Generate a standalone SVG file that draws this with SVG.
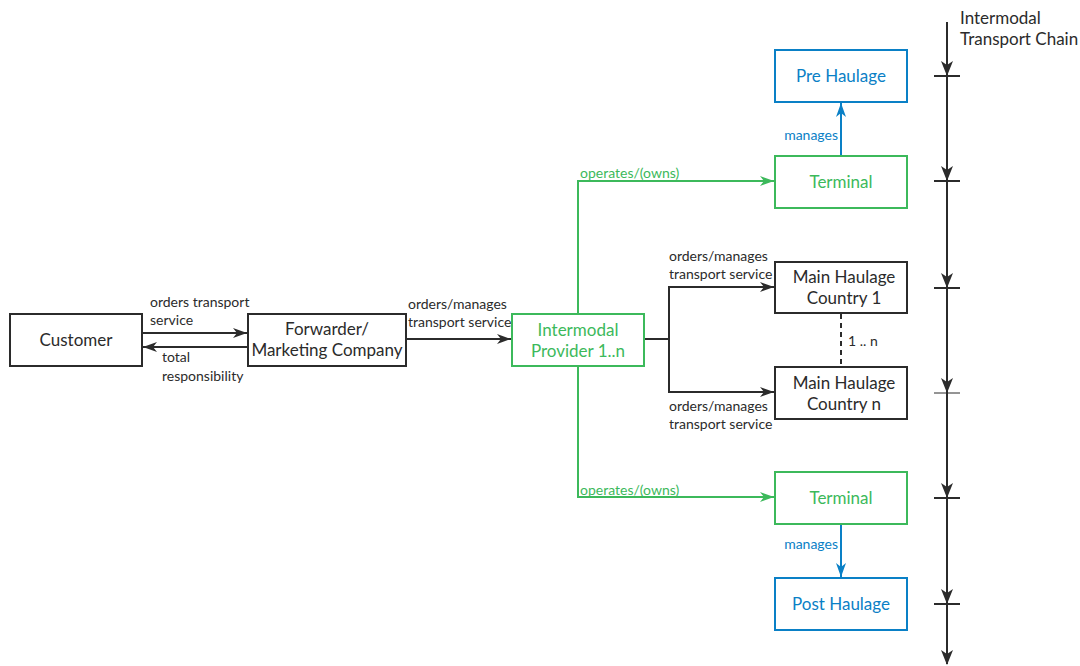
<svg xmlns="http://www.w3.org/2000/svg" width="1080" height="666" viewBox="0 0 1080 666">
<style>
.box{fill:#fff;stroke-width:2}
.k{stroke:#2b2b2b}
.g{stroke:#3cb95b}
.b{stroke:#0a80c6}
.t{font-family:Lato,"Liberation Sans",sans-serif;font-size:17px;text-anchor:middle}
.s{font-family:Lato,"Liberation Sans",sans-serif;font-size:14px}
.tk{fill:#2b2b2b}.tg{fill:#3cb95b}.tb{fill:#0a80c6}
.ln{fill:none;stroke-width:2}
</style>
<defs>
<marker id="ak" viewBox="0 0 14 10" refX="14" refY="5" markerWidth="14" markerHeight="10" markerUnits="userSpaceOnUse" orient="auto"><path d="M0,0 L14,5 L0,10 L4,5 z" fill="#2b2b2b"/></marker>
<marker id="ag" viewBox="0 0 14 10" refX="14" refY="5" markerWidth="14" markerHeight="10" markerUnits="userSpaceOnUse" orient="auto"><path d="M0,0 L14,5 L0,10 L4,5 z" fill="#3cb95b"/></marker>
<marker id="ab" viewBox="0 0 14 10" refX="14" refY="5" markerWidth="14" markerHeight="10" markerUnits="userSpaceOnUse" orient="auto"><path d="M0,0 L14,5 L0,10 L4,5 z" fill="#0a80c6"/></marker>
</defs>

<g id="connectors">
<line class="ln k" x1="142" y1="333" x2="247" y2="333" marker-end="url(#ak)"/>
<line class="ln k" x1="248" y1="347" x2="143" y2="347" marker-end="url(#ak)"/>
<line class="ln k" x1="406" y1="339" x2="511" y2="339" marker-end="url(#ak)"/>
<polyline class="ln g" points="578,314 578,181 774,181" marker-end="url(#ag)"/>
<polyline class="ln g" points="578,366 578,497 774,497" marker-end="url(#ag)"/>
<polyline class="ln k" points="644,339 669,339 669,287 774,287" marker-end="url(#ak)"/>
<polyline class="ln k" points="669,339 669,392 774,392" marker-end="url(#ak)"/>
<line class="ln b" x1="841" y1="156" x2="841" y2="103" marker-end="url(#ab)"/>
<line class="ln b" x1="841" y1="524" x2="841" y2="577" marker-end="url(#ab)"/>
<line x1="841" y1="314" x2="841" y2="366" stroke="#2b2b2b" stroke-width="2" stroke-dasharray="5,4"/>
<text class="s tk" x="150" y="307">orders transport</text>
<text class="s tk" x="150" y="325">service</text>
<text class="s tk" x="162" y="362">total</text>
<text class="s tk" x="162" y="381">responsibility</text>
<text class="s tk" x="408" y="309">orders/manages</text>
<text class="s tk" x="408" y="327">transport service</text>
<text class="s tg" x="580" y="178">operates/(owns)</text>
<text class="s tg" x="580" y="495">operates/(owns)</text>
<text class="s tk" x="669" y="261">orders/manages</text>
<text class="s tk" x="669" y="279">transport service</text>
<text class="s tk" x="669" y="411">orders/manages</text>
<text class="s tk" x="669" y="429">transport service</text>
<text class="s tb" x="838" y="140" text-anchor="end">manages</text>
<text class="s tb" x="838" y="549" text-anchor="end">manages</text>
<text class="s tk" x="848" y="346">1 .. n</text>
</g>

<g id="chain">
<line class="ln k" x1="947" y1="22" x2="947" y2="664"/>
<g stroke="#2b2b2b" stroke-width="2">
<line x1="934" y1="76" x2="960" y2="76"/>
<line x1="934" y1="181" x2="960" y2="181"/>
<line x1="934" y1="288" x2="960" y2="288"/>
<line x1="934" y1="393" x2="960" y2="393" stroke-width="1"/>
<line x1="934" y1="498" x2="960" y2="498"/>
<line x1="934" y1="604" x2="960" y2="604"/>
</g>
<g fill="#2b2b2b">
<path d="M941,61 L947,76 L953,61 L947,65 z"/>
<path d="M941,166 L947,181 L953,166 L947,170 z"/>
<path d="M941,273 L947,288 L953,273 L947,277 z"/>
<path d="M941,378 L947,393 L953,378 L947,382 z"/>
<path d="M941,483 L947,498 L953,483 L947,487 z"/>
<path d="M941,589 L947,604 L953,589 L947,593 z"/>
<path d="M941,650 L947,665 L953,650 L947,654 z"/>
</g>
<text class="t tk" x="960" y="24" style="text-anchor:start">Intermodal</text>
<text class="t tk" x="960" y="45" style="text-anchor:start">Transport Chain</text>
</g>

<g id="customer"><rect class="box k" x="10" y="314" width="132" height="52"/><text class="t tk" x="76" y="346">Customer</text></g>
<g id="forwarder"><rect class="box k" x="248" y="314" width="158" height="52"/><text class="t tk" x="327" y="335">Forwarder/</text><text class="t tk" x="327" y="356">Marketing Company</text></g>
<g id="intermodal"><rect class="box g" x="512" y="314" width="132" height="52"/><text class="t tg" x="578" y="336">Intermodal</text><text class="t tg" x="578" y="357">Provider 1..n</text></g>
<g id="prehaulage"><rect class="box b" x="775" y="50" width="132" height="52"/><text class="t tb" x="841" y="82">Pre Haulage</text></g>
<g id="terminal1"><rect class="box g" x="775" y="156" width="132" height="52"/><text class="t tg" x="841" y="188">Terminal</text></g>
<g id="main1"><rect class="box k" x="775" y="262" width="132" height="51"/><text class="t tk" x="844" y="283">Main Haulage</text><text class="t tk" x="844" y="304">Country 1</text></g>
<g id="mainn"><rect class="box k" x="775" y="367" width="132" height="52"/><text class="t tk" x="844" y="389">Main Haulage</text><text class="t tk" x="844" y="410">Country n</text></g>
<g id="terminal2"><rect class="box g" x="775" y="472" width="132" height="52"/><text class="t tg" x="841" y="504">Terminal</text></g>
<g id="posthaulage"><rect class="box b" x="775" y="578" width="132" height="52"/><text class="t tb" x="841" y="610">Post Haulage</text></g>
</svg>
